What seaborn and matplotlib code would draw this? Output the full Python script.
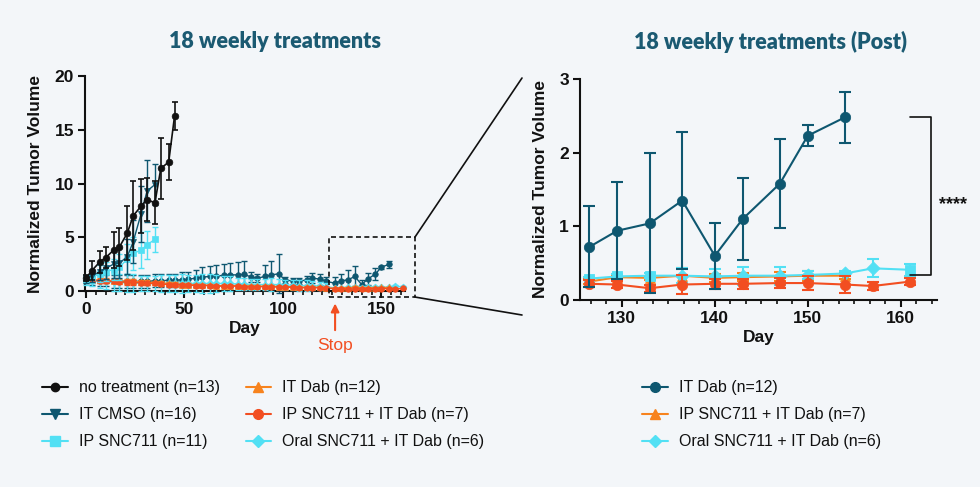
import numpy as np
import pandas as pd
import matplotlib
matplotlib.use("Agg")
import matplotlib.pyplot as plt
import seaborn as sns
from matplotlib.lines import Line2D
from matplotlib.patches import Rectangle, ConnectionPatch
from matplotlib.ticker import MultipleLocator

# ---------------- data ----------------
days_short = [0, 3, 7, 10, 14, 17, 21, 24, 28, 31, 35, 38, 42, 45]
no_treat = [1.2, 1.9, 2.7, 3.1, 3.8, 4.1, 5.4, 7.0, 7.9, 8.5, 8.2, 11.4, 12.0, 16.3]
no_treat_err = [0.3, 0.9, 1.0, 1.0, 1.7, 1.8, 2.5, 3.2, 2.5, 2.0, 2.0, 2.8, 1.7, 1.3]

days_cmso = [0, 3, 7, 10, 14, 17, 21, 24, 28, 31, 35]
it_cmso = [1.1, 1.4, 1.8, 2.1, 2.5, 2.6, 3.2, 4.6, 7.2, 9.3, 9.9]
it_cmso_err = [0.4, 0.6, 0.8, 1.0, 1.3, 1.4, 1.6, 2.0, 2.6, 2.9, 1.9]

ip_snc = [1.0, 1.3, 1.6, 1.8, 2.0, 2.2, 3.0, 3.5, 3.8, 4.3, 4.8]
ip_snc_err = [0.4, 0.6, 0.8, 0.9, 1.0, 1.2, 1.4, 1.5, 1.7, 1.3, 1.2]

days_long = [0, 3, 7, 10, 14, 17, 21, 24, 28, 31, 35, 38, 42, 45, 49, 52, 56, 59,
             63, 66, 70, 73, 77, 80, 84, 87, 91, 94, 98, 101, 105, 108, 112, 115,
             119, 122, 126.5, 129.5, 133, 136.5, 140, 143, 147, 150, 154, 157, 161]

it_dab_long = [1.0, 1.0, 0.95, 0.95, 0.9, 0.9, 0.9, 0.9, 0.9, 0.9,
               0.95, 0.95, 1.0, 1.0, 1.05, 1.1, 1.2, 1.3, 1.35, 1.4,
               1.45, 1.5, 1.5, 1.55, 1.3, 1.2, 1.35, 1.5, 1.6, 1.0,
               0.95, 0.95, 1.0, 1.2, 1.1, 0.9,
               0.72, 0.94, 1.04, 1.35, 0.60, 1.10, 1.58, 2.23, 2.48]
it_dab_long_err = [0.3, 0.4, 0.5, 0.5, 0.6, 0.6, 0.6, 0.6, 0.6, 0.6,
                   0.6, 0.6, 0.6, 0.6, 0.7, 0.7, 0.8, 0.9, 1.0, 1.0,
                   1.1, 1.1, 1.2, 1.2, 0.5, 0.4, 1.1, 1.3, 1.8, 0.3,
                   0.3, 0.3, 0.4, 0.5, 0.5, 0.4,
                   0.55, 0.66, 0.95, 0.93, 0.45, 0.56, 0.60, 0.14, 0.35]

oral = [1.0, 0.95, 0.9, 0.85, 0.8, 0.8, 0.75, 0.75, 0.7, 0.7,
        0.7, 0.7, 0.7, 0.7, 0.7, 0.7, 0.7, 0.7, 0.7, 0.7,
        0.7, 0.7, 0.65, 0.65, 0.6, 0.6, 0.6, 0.6, 0.6, 0.55,
        0.55, 0.5, 0.5, 0.5, 0.45, 0.4,
        0.29, 0.32, 0.33, 0.33, 0.32, 0.33, 0.33, 0.34, 0.36, 0.43, 0.41]
oral_err = [0.3, 0.5, 0.6, 0.7, 0.8, 0.8, 0.8, 0.8, 0.7, 0.7,
            0.7, 0.8, 0.8, 0.8, 0.9, 0.8, 0.8, 0.9, 0.9, 0.8,
            0.7, 0.7, 0.6, 0.6, 0.5, 0.5, 0.5, 0.6, 0.5, 0.5,
            0.5, 0.5, 0.5, 0.4, 0.4, 0.3,
            0.02, 0.03, 0.03, 0.10, 0.10, 0.12, 0.12, 0.05, 0.04, 0.12, 0.08]
oral_square_days = [126.5, 129.5, 133, 161]

ip_dab = [1.0, 1.0, 0.95, 0.9, 0.9, 0.85, 0.8, 0.8, 0.75, 0.7,
          0.7, 0.65, 0.6, 0.6, 0.55, 0.55, 0.5, 0.5, 0.5, 0.45,
          0.45, 0.45, 0.45, 0.4, 0.4, 0.4, 0.4, 0.4, 0.35, 0.35,
          0.35, 0.3, 0.3, 0.3, 0.3, 0.25,
          0.22, 0.21, 0.16, 0.21, 0.22, 0.22, 0.23, 0.23, 0.21, 0.19, 0.25]
ip_dab_err = [0.15, 0.2, 0.2, 0.2, 0.2, 0.2, 0.2, 0.2, 0.15, 0.15,
              0.15, 0.15, 0.15, 0.15, 0.12, 0.12, 0.12, 0.12, 0.1, 0.1,
              0.1, 0.1, 0.1, 0.1, 0.1, 0.1, 0.1, 0.1, 0.1, 0.1,
              0.08, 0.08, 0.08, 0.08, 0.08, 0.06,
              0.05, 0.05, 0.05, 0.13, 0.07, 0.07, 0.07, 0.10, 0.11, 0.05, 0.05]

it_dab = [1.0, 1.05, 1.0, 1.0, 0.95, 0.95, 0.9, 0.9, 0.85, 0.8,
          0.8, 0.75, 0.7, 0.65, 0.6, 0.6, 0.55, 0.55, 0.55, 0.5,
          0.5, 0.5, 0.5, 0.5, 0.45, 0.45, 0.45, 0.45, 0.4, 0.4,
          0.4, 0.35, 0.35, 0.35, 0.35, 0.3,
          0.25, 0.31, 0.30, 0.33, 0.30, 0.31, 0.32, 0.33, 0.33]
it_dab_err = [0.2, 0.25, 0.25, 0.25, 0.2, 0.2, 0.2, 0.2, 0.2, 0.2,
              0.15, 0.15, 0.15, 0.15, 0.15, 0.12, 0.12, 0.12, 0.12, 0.1,
              0.1, 0.1, 0.1, 0.1, 0.1, 0.1, 0.1, 0.1, 0.1, 0.1,
              0.08, 0.08, 0.08, 0.08, 0.08, 0.06,
              0.03, 0.03, 0.03, 0.10, 0.05, 0.05, 0.06, 0.07, 0.05]

left_labels = ["no treatment (n=13)", "IT CMSO (n=16)", "IP SNC711 (n=11)",
               "IT Dab (n=12)", "IP SNC711 + IT Dab (n=7)", "Oral SNC711 + IT Dab (n=6)"]
right_labels = ["IT Dab (n=12)", "IP SNC711 + IT Dab (n=7)", "Oral SNC711 + IT Dab (n=6)"]

# ---------------- style ----------------
BG = "#f3f6f9"
BLACK = "#111111"
TEAL = "#0e5770"
CYAN = "#52e0f4"
ORANGE = "#f7831e"
RED = "#f24e21"
TITLE = "#1b5a72"

sns.set_theme(style="ticks")
plt.rcParams["font.family"] = ["Liberation Sans", "DejaVu Sans"]
plt.rcParams["axes.facecolor"] = BG
plt.rcParams["figure.facecolor"] = BG

fig = plt.figure(figsize=(9.8, 4.87), dpi=100, facecolor=BG)
axL = fig.add_axes([85 / 980, 1 - 291 / 487, (405 - 85) / 980, (291 - 76) / 487])
axR = fig.add_axes([580 / 980, 1 - 300 / 487, (937 - 580) / 980, (300 - 79) / 487])


def series(ax, x, y, e, color, marker, ms, lw, cap, z, markers=True):
    df = pd.DataFrame({"day": x, "v": y})
    ax.errorbar(x, y, yerr=e, fmt="none", ecolor=color, elinewidth=lw,
                capsize=cap, capthick=lw, zorder=z, clip_on=False)
    sns.lineplot(data=df, x="day", y="v", ax=ax, color=color,
                 marker=marker if markers else None, markersize=ms,
                 markeredgecolor=color, markeredgewidth=0.5, linewidth=lw,
                 legend=False, zorder=z + 0.5, clip_on=False)


# ---------------- left panel ----------------
n45 = len(it_dab_long)
series(axL, days_long[:n45], it_dab_long, it_dab_long_err, TEAL, "o", 4, 1.0, 2, 2)
series(axL, days_long, oral, oral_err, CYAN, "D", 3.5, 1.0, 2, 3)
series(axL, days_long[:len(it_dab)], it_dab, it_dab_err, ORANGE, "^", 4, 1.0, 2, 4)
series(axL, days_long, ip_dab, ip_dab_err, RED, "o", 4, 1.0, 2, 5)
series(axL, days_cmso, ip_snc, ip_snc_err, CYAN, "s", 4, 1.0, 2, 6)
series(axL, days_cmso, it_cmso, it_cmso_err, TEAL, "v", 4.5, 1.0, 2, 7)
series(axL, days_short, no_treat, no_treat_err, BLACK, "o", 4.8, 1.2, 2, 8)

axL.set_xlim(-0.5, 162)
axL.set_ylim(0, 20)
axL.xaxis.set_major_locator(MultipleLocator(50))
axL.xaxis.set_minor_locator(MultipleLocator(5))
axL.yaxis.set_major_locator(MultipleLocator(5))

# dashed zoom box and connector lines
box = Rectangle((123.6, -0.56), 167 - 123.6, 5.0 + 0.56, fill=False, ls=(0, (3, 2)),
                lw=1.2, ec=BLACK, clip_on=False, zorder=10)
axL.add_patch(box)
for (yd, yf) in [(5.0, 1 - 78 / 487), (-0.56, 1 - 315 / 487)]:
    con = ConnectionPatch(xyA=(167, yd), coordsA=axL.transData,
                          xyB=(522 / 980, yf), coordsB=fig.transFigure,
                          color=BLACK, lw=1.2)
    fig.add_artist(con)

axL.annotate("", xy=(126.5, -0.9), xytext=(126.5, -3.9),
             arrowprops=dict(arrowstyle="-|>", color=RED, lw=1.5, mutation_scale=12),
             annotation_clip=False)
axL.text(126.5, -5.1, "Stop", color=RED, fontsize=12.5, ha="center", va="center")

# ---------------- right panel ----------------
def post(days, vals, errs):
    idx = [i for i, d in enumerate(days[:len(vals)]) if d >= 125]
    return ([days[i] for i in idx], [vals[i] for i in idx], [errs[i] for i in idx])

dR, vR, eR = post(days_long, it_dab, it_dab_err)
series(axR, dR, vR, eR, ORANGE, "^", 7, 1.5, 4, 2)

dC, vC, eC = post(days_long, oral, oral_err)
series(axR, dC, vC, eC, CYAN, "D", 7, 1.5, 4, 3, markers=False)
dfC = pd.DataFrame({"day": dC, "v": vC})
dfC["sq"] = dfC["day"].isin(oral_square_days)
sns.scatterplot(data=dfC[~dfC["sq"]], x="day", y="v", ax=axR, color=CYAN, marker="D",
                s=45, edgecolor=CYAN, legend=False, zorder=4, clip_on=False)
sns.scatterplot(data=dfC[dfC["sq"]], x="day", y="v", ax=axR, color=CYAN, marker="s",
                s=55, edgecolor=CYAN, legend=False, zorder=4, clip_on=False)

dI, vI, eI = post(days_long, ip_dab, ip_dab_err)
series(axR, dI, vI, eI, RED, "o", 7.5, 1.5, 4, 5)

dT, vT, eT = post(days_long, it_dab_long, it_dab_long_err)
series(axR, dT, vT, eT, TEAL, "o", 7.5, 1.5, 4, 6)

axR.set_xlim(125.5, 163.9)
axR.set_ylim(0, 3)
axR.xaxis.set_major_locator(MultipleLocator(10))
axR.xaxis.set_minor_locator(MultipleLocator(10 / 6))
axR.yaxis.set_major_locator(MultipleLocator(1))

# significance bracket
axR.plot([161.0, 163.3, 163.3, 161.0], [2.48, 2.48, 0.34, 0.34], color=BLACK,
         lw=1.2, clip_on=False, zorder=10)
axR.text(164.1, 1.30, "****", fontsize=13, fontweight="bold", ha="left", va="center",
         color=BLACK)

# ---------------- axes styling ----------------
for ax in (axL, axR):
    sns.despine(ax=ax)
    ax.set_facecolor(BG)
    for s in ("left", "bottom"):
        ax.spines[s].set_linewidth(1.5)
        ax.spines[s].set_color(BLACK)
    ax.tick_params(axis="both", which="major", direction="out", length=5, width=1.5,
                   color=BLACK, labelsize=12.5, labelcolor=BLACK, pad=3)
    ax.tick_params(axis="x", which="minor", direction="out", length=3, width=1.2,
                   color=BLACK)
    for lab in ax.get_xticklabels() + ax.get_yticklabels():
        lab.set_fontweight("bold")
    ax.set_xlabel("Day", fontsize=12.5, fontweight="bold", color=BLACK, labelpad=3)
    ax.set_ylabel("Normalized Tumor Volume", fontsize=12.5, fontweight="bold",
                  color=BLACK, labelpad=8)

fig.text(275 / 980, 1 - 42 / 487, "18 weekly treatments", fontsize=15.5,
         fontweight="heavy", color=TITLE, ha="center", va="center",
         family=["Lato", "DejaVu Sans"])
fig.text(770 / 980, 1 - 42 / 487, "18 weekly treatments (Post)", fontsize=15.5,
         fontweight="heavy", color=TITLE, ha="center", va="center",
         family=["Lato", "DejaVu Sans"])

# ---------------- legends ----------------
def h(color, marker, ms):
    return Line2D([], [], color=color, marker=marker, markersize=ms, lw=1.5,
                  markeredgecolor=color)

left_handles = [h(BLACK, "o", 6), h(TEAL, "v", 7), h(CYAN, "s", 7),
                h(ORANGE, "^", 7), h(RED, "o", 7), h(CYAN, "D", 6)]
fig.legend(left_handles, left_labels, ncol=2, loc="upper left",
           bbox_to_anchor=(28 / 980, 1 - 366 / 487), frameon=False, fontsize=11.5,
           handlelength=1.6, handletextpad=0.7, labelspacing=0.75, columnspacing=1.6,
           labelcolor=BLACK)

right_handles = [h(TEAL, "o", 7), h(ORANGE, "^", 7), h(CYAN, "D", 6)]
fig.legend(right_handles, right_labels, ncol=1, loc="upper left",
           bbox_to_anchor=(628 / 980, 1 - 366 / 487), frameon=False, fontsize=11.5,
           handlelength=1.6, handletextpad=0.7, labelspacing=0.75, labelcolor=BLACK)

fig.savefig("out.png", dpi=100, facecolor=BG)
